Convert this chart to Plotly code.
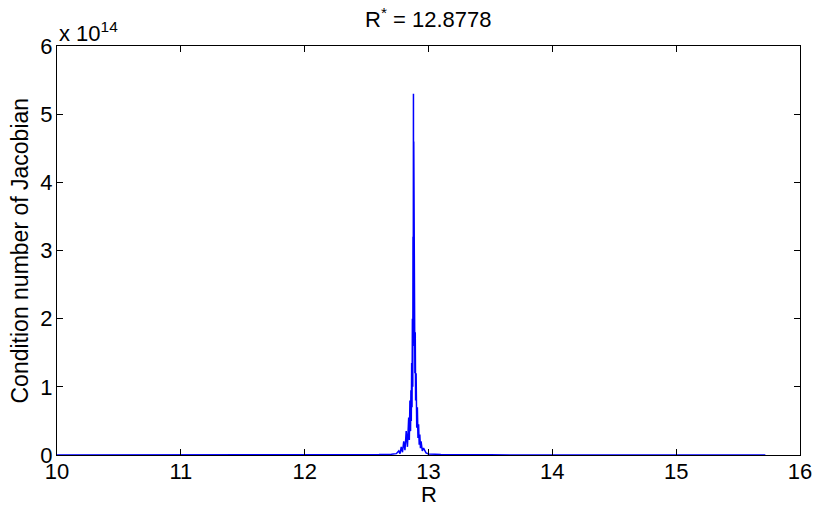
import plotly.graph_objects as go

# Parameter R and condition number of the Jacobian (in units of 1e14)
R_values = [10.0, 10.5, 11.0, 11.5, 12.0, 12.3, 12.5, 12.6, 12.7, 12.74,
            12.76, 12.77, 12.78, 12.79, 12.80, 12.81, 12.82, 12.83, 12.84, 12.845,
            12.85, 12.855, 12.858, 12.861, 12.864, 12.867, 12.870, 12.873, 12.875, 12.8765,
            12.8772, 12.8778, 12.8785, 12.8792, 12.881, 12.884, 12.887, 12.890, 12.893, 12.896,
            12.90, 12.905, 12.91, 12.915, 12.92, 12.925, 12.93, 12.935, 12.94, 12.95,
            12.96, 12.98, 13.0, 13.1, 13.3, 13.5, 14.0, 14.5, 15.0, 15.5, 15.72]
cond_e14 = [0.0, 0.0, 0.0, 0.001, 0.002, 0.003, 0.005, 0.007, 0.012, 0.02,
            0.06, 0.02, 0.12, 0.04, 0.20, 0.07, 0.35, 0.12, 0.55, 0.22,
            0.80, 0.35, 0.95, 0.50, 1.35, 0.70, 2.00, 1.00, 3.20, 1.60,
            4.76, 3.50, 5.30, 3.20, 4.60, 1.80, 2.80, 1.20, 1.80, 0.80,
            1.20, 0.40, 0.70, 0.25, 0.45, 0.15, 0.30, 0.10, 0.20, 0.06,
            0.10, 0.03, 0.015, 0.008, 0.004, 0.002, 0.001, 0.0, 0.0, 0.0, 0.0]
cond_values = [v * 1e14 for v in cond_e14]

x_ticks = [10, 11, 12, 13, 14, 15, 16]
y_ticks = [0, 1, 2, 3, 4, 5, 6]
title_text = "R<sup>*</sup> = 12.8778"
x_label = "R"
y_label = "Condition number of Jacobian"
exp_label = "x 10<sup>14</sup>"

FONT = "Liberation Sans, Arial, sans-serif"
FS = 22

fig = go.Figure()
fig.add_trace(go.Scatter(x=R_values, y=cond_values, mode="lines",
                         line=dict(color="#0000ff", width=1.5),
                         showlegend=False, hoverinfo="skip"))

axis_common = dict(showline=True, linecolor="black", linewidth=1, mirror="ticks",
                   ticks="inside", ticklen=6, tickcolor="black", tickwidth=1,
                   showgrid=False, zeroline=False, automargin=False,
                   tickfont=dict(family=FONT, size=FS, color="black"))

fig.update_xaxes(range=[10, 16], tickvals=x_ticks, ticktext=[str(t) for t in x_ticks],
                 ticklabelstandoff=-3, **axis_common)
fig.update_yaxes(range=[0, 6e14], tickvals=[t * 1e14 for t in y_ticks],
                 ticktext=[str(t) for t in y_ticks], ticklabelstandoff=-1, **axis_common)

fig.update_layout(
    width=817, height=514,
    margin=dict(l=57, r=17, t=46, b=59),
    paper_bgcolor="white", plot_bgcolor="white",
    font=dict(family=FONT, size=FS, color="black"),
    annotations=[
        dict(text=title_text, x=0.5, y=1, xref="paper", yref="paper", yshift=28,
             showarrow=False, font=dict(family=FONT, size=FS, color="black"),
             yanchor="middle", xanchor="center"),
        dict(text=x_label, x=0.5, xref="paper", yref="paper", y=0,
             yshift=-39, showarrow=False, yanchor="middle", xanchor="center",
             font=dict(family=FONT, size=FS, color="black")),
        dict(text=y_label, x=0, xref="paper", y=0.5, yref="paper", xshift=-38,
             textangle=-90, showarrow=False, xanchor="center", yanchor="middle",
             font=dict(family=FONT, size=23, color="black")),
        dict(text=exp_label, x=0, xref="paper", y=1, yref="paper", xanchor="left",
             yanchor="bottom", yshift=-2, showarrow=False,
             font=dict(family=FONT, size=FS, color="black")),
    ],
)

fig.write_html("out.html", config={"displayModeBar": False},
               post_script="document.body.style.margin='0';document.body.style.padding='0';")
